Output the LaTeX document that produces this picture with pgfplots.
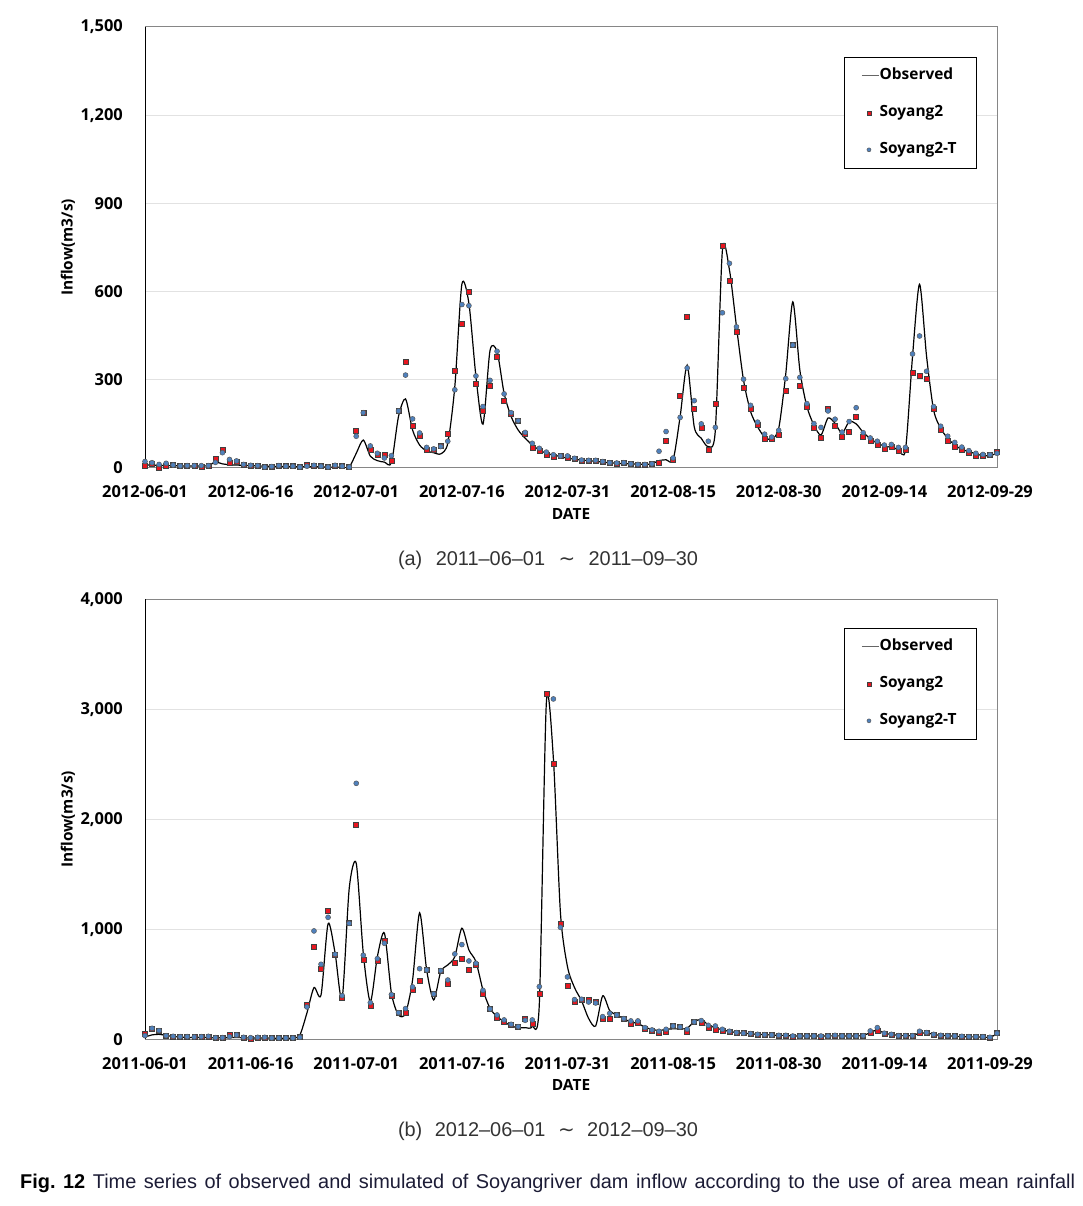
\documentclass[border=0pt]{standalone}
\usepackage{fontspec}
\setmainfont{Liberation Sans}
\newfontfamily\chartfont{Open Sans}
\newfontfamily\djv{DejaVu Sans}
\usepackage{pgfplots}
\pgfplotsset{compat=1.18}
\usepackage{pgfplotstable}
\definecolor{gridc}{RGB}{226,226,226}
\definecolor{axisc}{RGB}{134,134,134}
\definecolor{redm}{RGB}{232,22,32}
\definecolor{bluem}{RGB}{79,129,189}
\definecolor{capc}{RGB}{28,28,54}

\pgfplotstableread{
d obs s2 s2t
0 10 8 22
1 10 14 18
2 9 2 12
3 8 9 16
4 8 12 10
5 7 7 7
6 7 8 8
7 7 8 8
8 7 5 8
9 8 8 8
10 20 33 19
11 14 63 52
12 11 19 29
13 10 20 24
14 9 12 12
15 8 9 9
16 7 8 8
17 6 3 3
18 6 5 5
19 5 8 8
20 5 6 6
21 5 6 6
22 4 3 3
23 4 10 6
24 4 9 9
25 4 6 6
26 3 3 3
27 3 9 9
28 3 6 6
29 3 3 3
30 50 125 108
31 95 188 188
32 40 61 75
33 25 44 50
34 20 46 34
35 18 24 42
36 175 194 194
37 235 360 316
38 129 143 167
39 78 109 119
40 58 61 70
41 52 61 65
42 48 75 73
43 84 118 91
44 277 331 266
45 625 492 556
46 560 601 552
47 311 288 313
48 149 194 209
49 400 281 298
50 396 378 397
51 254 228 252
52 175 183 188
53 129 161 161
54 101 116 121
55 78 70 84
56 61 59 67
57 50 44 54
58 44 39 45
59 39 41 41
60 33 34 41
61 30 33 33
62 27 24 27
63 25 24 26
64 23 26 26
65 20 22 22
66 18 18 18
67 16 14 17
68 15 18 18
69 14 14 14
70 13 12 12
71 13 12 12
72 14 14 14
73 25 18 57
74 28 94 124
75 27 27 34
76 175 247 172
77 350 516 340
78 140 200 229
79 101 136 150
80 73 62 91
81 129 219 138
82 740 756 528
83 674 636 696
84 481 463 480
85 299 273 302
86 192 201 213
87 140 146 156
88 105 99 115
89 98 99 105
90 135 112 128
91 320 263 304
92 565 420 418
93 333 281 308
94 209 208 219
95 146 137 151
96 112 103 138
97 170 203 194
98 152 143 166
99 118 105 122
100 158 122 158
101 150 175 205
102 121 105 120
103 100 91 102
104 84 78 91
105 75 67 78
106 70 73 80
107 63 60 70
108 61 61 70
109 379 325 388
110 625 315 449
111 379 302 329
112 197 202 209
113 135 129 142
114 101 91 108
115 78 73 87
116 63 61 71
117 56 52 59
118 48 41 50
119 42 41 46
120 42 45 45
121 50 54 50
}\dataA

\pgfplotstableread{
d obs s2 s2t
0 20 52 33
1 40 100 100
2 45 79 79
3 35 33 33
4 25 21 27
5 20 24 24
6 18 24 24
7 16 21 21
8 15 24 24
9 15 27 27
10 14 15 15
11 14 15 15
12 15 42 24
13 16 39 39
14 14 18 18
15 12 9 15
16 12 18 18
17 12 18 18
18 10 12 12
19 10 12 12
20 10 12 12
21 10 12 12
22 40 24 18
23 240 318 294
24 470 845 985
25 403 645 682
26 1050 1170 1109
27 782 773 773
28 373 376 397
29 1370 1064 1054
30 1600 1954 2327
31 782 724 764
32 342 303 333
33 751 712 733
34 965 897 873
35 418 397 406
36 221 242 242
37 236 242 279
38 539 451 476
39 1150 530 642
40 630 630 630
41 358 418 412
42 615 624 624
43 676 503 539
44 751 700 776
45 1010 730 861
46 812 636 712
47 706 676 691
48 448 418 445
49 282 276 276
50 206 200 221
51 161 155 176
52 121 130 136
53 106 115 115
54 106 185 173
55 115 139 176
56 320 418 479
57 3060 3145 nan
58 2550 2503 3094
59 1150 1048 1018
60 660 485 567
61 470 342 361
62 350 364 364
63 190 364 339
64 121 339 330
65 395 191 206
66 260 188 236
67 221 221 221
68 188 188 188
69 155 139 167
70 145 152 167
71 109 94 106
72 91 79 85
73 79 55 73
74 91 70 91
75 95 121 121
76 95 112 112
77 100 70 91
78 160 158 158
79 180 152 170
80 130 109 127
81 105 91 121
82 85 76 91
83 72 68 73
84 61 61 61
85 55 55 55
86 50 52 52
87 45 45 45
88 42 42 42
89 39 39 39
90 36 36 36
91 35 33 36
92 30 24 30
93 30 28 30
94 30 28 30
95 30 30 30
96 30 27 30
97 30 30 30
98 32 34 36
99 30 30 30
100 30 28 30
101 30 30 30
102 35 33 33
103 60 64 76
104 85 76 106
105 55 52 55
106 45 45 45
107 35 30 33
108 33 30 33
109 35 33 33
110 55 64 73
111 58 61 61
112 45 45 45
113 36 36 36
114 32 33 33
115 28 30 30
116 25 27 27
117 22 24 24
118 22 24 24
119 20 24 24
120 18 15 18
121 50 55 55
}\dataB

\newcommand\tfont{\chartfont\bfseries\fontsize{16.5}{19}\selectfont}
\newcommand\lfont{\chartfont\bfseries\fontsize{15.5}{18}\selectfont}

\pgfplotsset{
  myaxis/.style={
    scale only axis, width=852bp, xmin=0, xmax=121, ymin=0,
    enlargelimits=false,
    axis line style={draw=axisc, line width=1bp},
    ymajorgrids, major grid style={draw=gridc, line width=1bp},
    major tick length=0pt,
    xtick={0,15,...,120},
    tick label style={font=\tfont, text=black},
    yticklabel style={anchor=east, inner sep=0pt, xshift=-22bp},
    xticklabel style={anchor=base, inner sep=0pt, yshift=-30bp},
    every axis x label/.style={at={(axis description cs:0.5,0)}, anchor=center, yshift=-46bp, font=\lfont},
    every axis y label/.style={at={(axis description cs:0,0.5)}, xshift=-77bp, rotate=90, anchor=center, font=\lfont},
    xlabel={DATE}, ylabel={Inflow(m3/s)},
    clip mode=individual,
    legend cell align=left,
    legend style={anchor=north east, draw=black, line width=0.7bp, fill=white,
      inner xsep=17bp, inner ysep=0bp, row sep=0bp, column sep=0bp, font=\lfont,
      nodes={inner xsep=0pt, inner ysep=0pt, minimum height=37bp, text height=11.5bp, text depth=3.5bp, text width=80bp}},
  },
  obsline/.style={black, line width=1.2bp, smooth, tension=0.45, no markers,
    legend image code/.code={\draw[black!60, line width=1.3bp] (0bp,0bp) -- (17bp,0bp);}},
  s2mark/.style={only marks, mark=square*, mark size=2.5bp, mark options={fill=redm, draw=black!75, line width=0.5bp},
    legend image code/.code={\path[draw=none] (0bp,0bp) -- (17bp,0bp); \draw[mark=square*, mark size=2bp, mark options={fill=redm, draw=black!75, line width=0.5bp}] plot coordinates {(7bp,0bp)};}},
  s2tmark/.style={only marks, mark=*, mark size=2.5bp, mark options={fill=bluem, draw=black!65, line width=0.5bp},
    legend image code/.code={\path[draw=none] (0bp,0bp) -- (17bp,0bp); \draw[mark=*, mark size=2bp, mark options={fill=bluem, draw=black!65, line width=0.5bp}] plot coordinates {(7bp,0bp)};}},
}

\begin{document}
\frenchspacing
\begin{tikzpicture}
\path[use as bounding box] (0bp,0bp) rectangle (1083bp,1206bp);

\begin{axis}[myaxis, at={(145bp,738bp)}, anchor=south west, height=441bp, ymax=1500,
  ytick={0,300,600,900,1200,1500}, yticklabels={0,300,600,900,{1,200},{1,500}},
  xticklabels={2012-06-01,2012-06-16,2012-07-01,2012-07-16,2012-07-31,2012-08-15,2012-08-30,2012-09-14,2012-09-29},
  legend style={at={(0.9765,0.932)}}]
\draw[black, line width=1bp] (rel axis cs:0,0) -- (rel axis cs:0,1);
\addplot[obsline] table[x=d,y=obs]{\dataA};
\addlegendentry{Observed}
\addplot[s2mark] table[x=d,y=s2]{\dataA};
\addlegendentry{Soyang2}
\addplot[s2tmark] table[x=d,y=s2t]{\dataA};
\addlegendentry{Soyang2-T}
\end{axis}

\begin{axis}[myaxis, at={(145bp,166.7bp)}, anchor=south west, height=440bp, ymax=4000,
  ytick={0,1000,2000,3000,4000}, yticklabels={0,{1,000},{2,000},{3,000},{4,000}},
  xticklabels={2011-06-01,2011-06-16,2011-07-01,2011-07-16,2011-07-31,2011-08-15,2011-08-30,2011-09-14,2011-09-29},
  legend style={at={(0.9765,0.9348)}}]
\draw[black, line width=1bp] (rel axis cs:0,0) -- (rel axis cs:0,1);
\addplot[obsline] table[x=d,y=obs]{\dataB};
\addlegendentry{Observed}
\addplot[s2mark] table[x=d,y=s2]{\dataB};
\addlegendentry{Soyang2}
\addplot[s2tmark] table[x=d,y=s2t]{\dataB};
\addlegendentry{Soyang2-T}
\end{axis}

\node[inner sep=0pt, text=black!80] at (548bp,646bp) {\fontsize{20}{23}\selectfont\makebox[300bp][s]{(a) 2011\textendash06\textendash01 {\djv ∼} 2011\textendash09\textendash30}};
\node[inner sep=0pt, text=black!80] at (548bp,75bp) {\fontsize{20}{23}\selectfont\makebox[300bp][s]{(b) 2012\textendash06\textendash01 {\djv ∼} 2012\textendash09\textendash30}};
\node[inner sep=0pt, anchor=west] at (20bp,23bp) {\fontsize{20}{23}\selectfont\makebox[1055bp][s]{\textbf{Fig.~12} \textcolor{capc}{Time series of observed and simulated of Soyangriver dam inflow according to the use of area mean rainfall}}};
\end{tikzpicture}
\end{document}
